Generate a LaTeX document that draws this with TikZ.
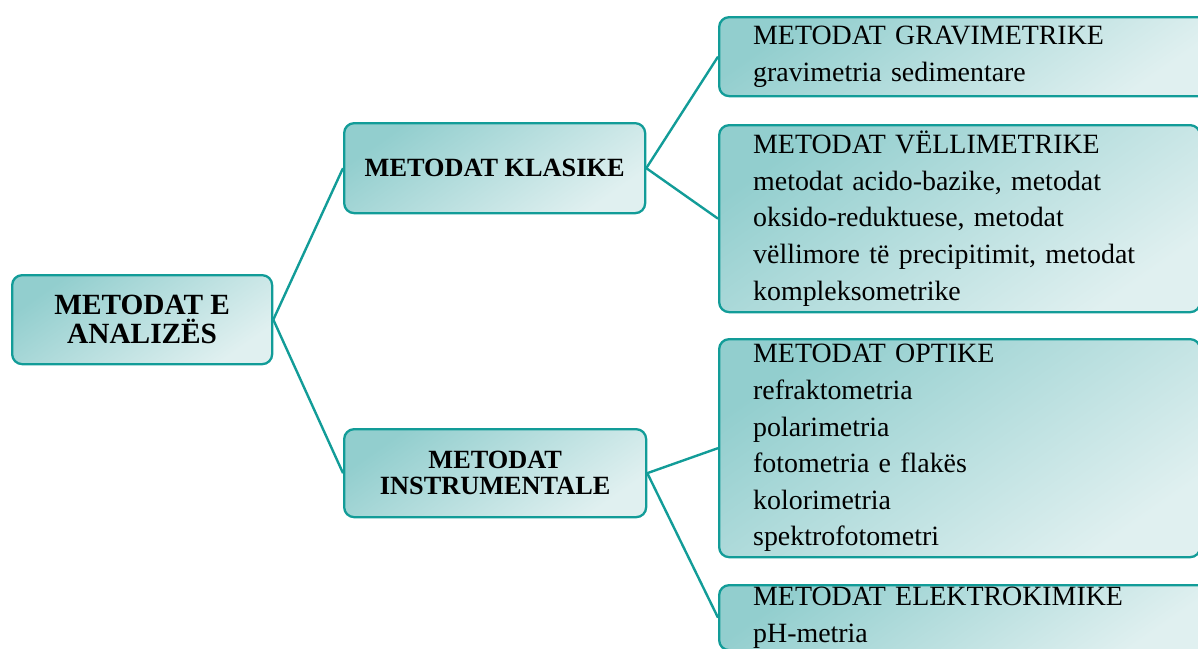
\documentclass[tikz,border=0pt]{standalone}
\usepackage{fontspec}
\setmainfont{Liberation Serif}
\usepackage{xcolor}
\usepackage{tikz}

\definecolor{lineteal}{RGB}{18,156,152}
\definecolor{filldark}{RGB}{146,206,206}
\definecolor{filllight}{RGB}{224,240,240}

\begin{document}
\begin{tikzpicture}[x=1pt,y=-1pt]
\tikzstyle{every node}+=[inner sep=0pt]
\tikzstyle{box}=[draw=lineteal, line width=2.3pt, rounded corners=10pt, top color=filldark, bottom color=filllight, shading angle=35, anchor=north west]
\tikzstyle{head}=[box, align=center, font=\bfseries\fontsize{26.3}{26.5}\selectfont]
\tikzstyle{leaf}=[box, align=left, inner xsep=34pt, inner ysep=2pt, font=\fontsize{27.9}{36.6}\selectfont]
\tikzstyle{link}=[draw=lineteal, line width=2.4pt]
\useasboundingbox (0,0) rectangle (1198,648);
\clip (0,0) rectangle (1198,648);
% first level
\node [head, minimum width=260pt, minimum height=89pt, font=\bfseries\fontsize{29.3}{28.5}\selectfont] (analiza) at (11,274) {METODAT E\\ANALIZËS};
% second level
\node [head, minimum width=301pt, minimum height=90pt] (klasike) at (343,122) {METODAT KLASIKE};
\node [head, minimum width=302pt, minimum height=88pt] (instrumentale) at (343,428) {METODAT\\INSTRUMENTALE};
% third level
\node [leaf, text width=424pt, minimum height=79pt] (gravimetrike) at (718,16) {METODAT GRAVIMETRIKE\\gravimetria sedimentare};
\node [leaf, text width=413pt, minimum height=187pt] (vellimetrike) at (718,124) {METODAT VËLLIMETRIKE\\metodat acido-bazike, metodat\\oksido-reduktuese, metodat\\vëllimore të precipitimit, metodat\\kompleksometrike};
\node [leaf, text width=413pt, minimum height=218pt] (optike) at (718,338) {METODAT OPTIKE\\refraktometria\\polarimetria\\fotometria e flakës\\kolorimetria\\spektrofotometri};
\node [leaf, text width=424pt] (elektrokimike) at (718,584) {METODAT ELEKTROKIMIKE\\pH-metria};
% connectors
\draw [link] (analiza.east) -- (klasike.west);
\draw [link] (analiza.east) -- (instrumentale.west);
\draw [link] (klasike.east) -- (gravimetrike.west);
\draw [link] (klasike.east) -- (vellimetrike.west);
\draw [link] (instrumentale.east) -- (optike.west);
\draw [link] (instrumentale.east) -- (elektrokimike.west);
\end{tikzpicture}
\end{document}
